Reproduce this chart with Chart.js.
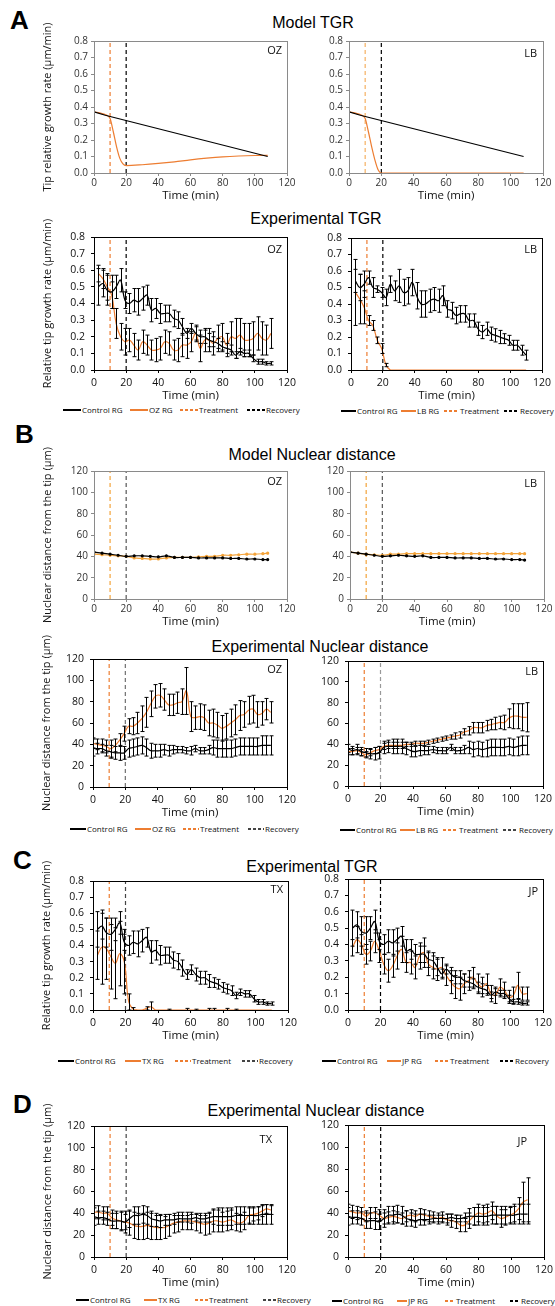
<!DOCTYPE html>
<html>
<head>
<meta charset="utf-8">
<script src="https://cdn.jsdelivr.net/npm/chart.js@4/dist/chart.umd.min.js"></script>
<style>
body { margin: 0; background: #fff; width: 555px; height: 1306px; position: relative; overflow: hidden; font-family: "Liberation Sans", Arial, sans-serif; }
.abs { position: absolute; }
.letter { font-weight: bold; font-size: 26px; line-height: 26px; color: #000; }
.title { font-size: 16px; line-height: 16px; color: #000; white-space: nowrap; transform: translateX(-50%); }
.legend { font-family: "Open Sans", sans-serif; font-size: 8px; line-height: 10px; color: #111; white-space: nowrap; display: flex; align-items: center; }
.legend .ln { display: inline-block; height: 1.5px; }
.legend .ln.dash { height: 1.2px; }
.legend .tx { display: inline-block; padding-left: 1px; }
</style>
</head>
<body>
<div class="abs letter" style="left:10px;top:7px">A</div>
<div class="abs letter" style="left:15px;top:421px">B</div>
<div class="abs letter" style="left:13px;top:847px">C</div>
<div class="abs letter" style="left:13px;top:1091px">D</div>

<div class="abs title" style="left:313px;top:15px">Model TGR</div>
<div class="abs title" style="left:316px;top:211px">Experimental TGR</div>
<div class="abs title" style="left:312px;top:447px">Model Nuclear distance</div>
<div class="abs title" style="left:320px;top:639px">Experimental Nuclear distance</div>
<div class="abs title" style="left:312px;top:859px">Experimental TGR</div>
<div class="abs title" style="left:316px;top:1103px">Experimental Nuclear distance</div>

<script>
const orange = '#ED7D31';
const modelOrange = '#F3A33A';
const treatAt = 10;
const recoverAt = 20;

// model curves (A and B, top rows)
const modelCtrlTgrTime = [0, 7, 108];
const modelCtrlTgr = [0.37, 0.35, 0.10];
const modelTgrTime = [0, 5, 8, 10, 12, 14, 16, 18, 20, 30, 40, 50, 60, 70, 80, 90, 100, 108];
const modelOzTgr = [0.37, 0.36, 0.35, 0.33, 0.25, 0.16, 0.09, 0.055, 0.045, 0.05, 0.058, 0.068, 0.08, 0.09, 0.098, 0.103, 0.106, 0.107];
const modelLbTgr = [0.37, 0.36, 0.35, 0.33, 0.25, 0.16, 0.08, 0.02, 0, 0, 0, 0, 0, 0, 0, 0, 0, 0];

const modelNucTime = [0, 5, 10, 15, 20, 25, 30, 35, 40, 45, 50, 55, 60, 65, 70, 75, 80, 85, 90, 95, 100, 105, 108];
const modelOzCtrlNuc = [44, 43, 42, 41, 40, 40.5, 40.5, 40, 39.5, 40.5, 39, 39, 39, 38.5, 38.5, 38.5, 38.5, 38, 38, 37.5, 37.5, 37, 37];
const modelOzNuc = [42, 41.5, 41, 40.5, 40, 38.5, 38, 37.5, 37.5, 38.5, 39, 39, 39, 39.5, 40, 40, 41, 41, 41.5, 42, 42, 42.5, 43];
const modelLbCtrlNuc = [44, 43, 42, 41, 40, 40.5, 41, 40.5, 40, 40.5, 39, 39, 39, 38.5, 38.5, 38.5, 38, 38, 37.5, 37.5, 37, 37, 36.5];
const modelLbNuc = [44, 43, 42, 41.5, 41, 42, 42, 42.5, 42.5, 42.5, 42.5, 42.5, 42.5, 42.5, 42.5, 42.5, 42.5, 42.5, 42.5, 42.5, 42.5, 42.5, 42.5];

// experimental sampling times
const tgrTime = [2.75, 5.5, 8.25, 11, 13.75, 16.5, 19.25, 22, 24.75, 27.5,
  30.25, 33, 35.75, 38.5, 41.25, 44, 46.75, 49.5, 52.25, 55,
  57.75, 60.5, 63.25, 66, 68.75, 71.5, 74.25, 77, 79.75, 82.5,
  85.25, 88, 90.75, 93.5, 96.25, 99, 101.75, 104.5, 107.25, 110];
const nucTime = [0, 2.75, 5.5, 8.25, 11, 13.75, 16.5, 19.25, 22, 24.75,
  27.5, 30.25, 33, 35.75, 38.5, 41.25, 44, 46.75, 49.5, 52.25,
  55, 57.75, 60.5, 63.25, 66, 68.75, 71.5, 74.25, 77, 79.75,
  82.5, 85.25, 88, 90.75, 93.5, 96.25, 99, 101.75, 104.5, 107.25, 110];

// experimental TGR
const ctrlTgr = [0.50, 0.52, 0.48, 0.47, 0.50, 0.54, 0.42, 0.40, 0.42, 0.41,
  0.43, 0.45, 0.36, 0.37, 0.34, 0.34, 0.34, 0.31, 0.30, 0.26,
  0.22, 0.25, 0.22, 0.20, 0.20, 0.18, 0.17, 0.16, 0.14, 0.13,
  0.12, 0.09, 0.11, 0.10, 0.10, 0.07, 0.05, 0.05, 0.04, 0.04];
const ctrlTgrErr = [0.11, 0.08, 0.09, 0.10, 0.07, 0.07, 0.05, 0.06, 0.07, 0.08,
  0.07, 0.06, 0.07, 0.06, 0.06, 0.05, 0.05, 0.05, 0.05, 0.05,
  0.03, 0.03, 0.04, 0.04, 0.04, 0.04, 0.03, 0.03, 0.03, 0.03,
  0.03, 0.02, 0.02, 0.02, 0.02, 0.02, 0.015, 0.015, 0.01, 0.01];
const ozTgr = [0.58, 0.55, 0.50, 0.45, 0.28, 0.20, 0.17, 0.18, 0.15, 0.12,
  0.17, 0.15, 0.12, 0.12, 0.13, 0.17, 0.16, 0.12, 0.12, 0.15,
  0.15, 0.17, 0.22, 0.13, 0.18, 0.18, 0.16, 0.19, 0.20, 0.15,
  0.20, 0.19, 0.21, 0.18, 0.18, 0.19, 0.22, 0.19, 0.18, 0.22];
const ozTgrErr = [0.05, 0.06, 0.08, 0.08, 0.09, 0.08, 0.08, 0.07, 0.07, 0.06,
  0.07, 0.06, 0.06, 0.07, 0.07, 0.07, 0.07, 0.06, 0.07, 0.07,
  0.08, 0.06, 0.05, 0.08, 0.07, 0.07, 0.07, 0.08, 0.08, 0.07,
  0.09, 0.12, 0.10, 0.10, 0.10, 0.10, 0.10, 0.10, 0.09, 0.09];
const lbCtrlTgr = [0.54, 0.50, 0.52, 0.56, 0.50, 0.49, 0.47, 0.44, 0.52, 0.48,
  0.51, 0.47, 0.48, 0.53, 0.45, 0.40, 0.40, 0.42, 0.43, 0.42,
  0.45, 0.37, 0.36, 0.33, 0.34, 0.34, 0.30, 0.30, 0.25, 0.23,
  0.25, 0.22, 0.21, 0.20, 0.19, 0.18, 0.15, 0.15, 0.12, 0.09];
const lbCtrlTgrErr = [0.07, 0.08, 0.08, 0.04, 0.06, 0.02, 0.03, 0.05, 0.05, 0.06,
  0.10, 0.08, 0.08, 0.08, 0.08, 0.08, 0.08, 0.07, 0.07, 0.07,
  0.06, 0.05, 0.05, 0.05, 0.05, 0.05, 0.04, 0.04, 0.04, 0.04,
  0.04, 0.04, 0.04, 0.04, 0.03, 0.03, 0.03, 0.03, 0.03, 0.03];
const lbTgr = [0.47, 0.43, 0.38, 0.30, 0.27, 0.18, 0.13, 0.03, 0, 0,
  0, 0, 0, 0, 0, 0, 0, 0, 0, 0,
  0, 0, 0, 0, 0, 0, 0, 0, 0, 0,
  0, 0, 0, 0, 0, 0, 0, 0, 0, 0];
const lbTgrErr = [0.20, 0.15, 0.10, 0.03, 0.03, 0.02, 0.03, 0.01, 0, 0,
  0, 0, 0, 0, 0, 0, 0, 0, 0, 0,
  0, 0, 0, 0, 0, 0, 0, 0, 0, 0,
  0, 0, 0, 0, 0, 0, 0, 0, 0, 0];
const txTgr = [0.34, 0.39, 0.38, 0.33, 0.29, 0.35, 0.30, 0.05, 0.005, 0,
  0, 0.01, 0.02, 0, 0, 0, 0, 0, 0, 0,
  0, 0, 0, 0, 0, 0, 0, 0, 0, 0,
  0, 0, 0, 0, 0, 0, 0, 0, 0, 0];
const txTgrErr = [0.15, 0.23, 0.19, 0.20, 0.22, 0.20, 0.20, 0.05, 0.01, 0,
  0, 0.01, 0.03, 0, 0, 0, 0.005, 0, 0, 0,
  0.01, 0, 0.005, 0, 0, 0.01, 0.01, 0, 0, 0.01,
  0, 0.005, 0, 0, 0, 0, 0, 0, 0, 0];
const jpTgr = [0.38, 0.43, 0.40, 0.34, 0.36, 0.42, 0.36, 0.28, 0.24, 0.27,
  0.33, 0.37, 0.29, 0.29, 0.26, 0.33, 0.35, 0.28, 0.26, 0.25,
  0.26, 0.21, 0.17, 0.14, 0.13, 0.16, 0.18, 0.20, 0.16, 0.14,
  0.16, 0.10, 0.09, 0.14, 0.12, 0.08, 0.09, 0.15, 0.10, 0.10];
const jpTgrErr = [0.05, 0.08, 0.06, 0.06, 0.06, 0.07, 0.07, 0.06, 0.07, 0.07,
  0.08, 0.08, 0.06, 0.07, 0.07, 0.08, 0.09, 0.07, 0.07, 0.07,
  0.06, 0.06, 0.07, 0.07, 0.07, 0.06, 0.06, 0.06, 0.06, 0.06,
  0.06, 0.05, 0.05, 0.05, 0.05, 0.04, 0.05, 0.08, 0.04, 0.04];

// experimental nuclear distance
const ozCtrlNuc = [37, 36, 36, 34, 33, 32, 32, 32, 36, 37,
  38, 39, 37, 34, 34, 34, 35, 34, 35, 35,
  35, 34, 34, 36, 34, 34, 35, 37, 36, 36,
  36, 36, 37, 38, 38, 38, 38, 38, 39, 39, 39];
const ozCtrlNucErr = [8, 5, 4, 5, 6, 6, 7, 6, 8, 8,
  8, 8, 8, 7, 6, 6, 5, 5, 4, 3,
  3, 3, 4, 3, 3, 3, 4, 7, 8, 8,
  8, 8, 8, 8, 8, 8, 8, 8, 9, 9, 9];
const ozNuc = [41, 40, 39, 38, 36, 39, 44, 50, 57, 57,
  60, 64, 70, 78, 85, 86, 82, 77, 77, 79,
  80, 90, 66, 65, 66, 65, 60, 60, 58, 55,
  57, 60, 63, 67, 68, 72, 73, 68, 69, 73, 70];
const ozNucErr = [5, 5, 6, 6, 8, 6, 6, 7, 7, 8,
  10, 12, 14, 12, 11, 11, 10, 10, 10, 10,
  12, 22, 14, 11, 12, 12, 12, 13, 12, 12,
  12, 13, 14, 14, 12, 13, 13, 12, 11, 10, 10];
const lbCtrlNuc = [36, 34, 35, 33, 32, 31, 31, 32, 37, 38,
  38, 38, 38, 36, 34, 33, 34, 34, 34, 35,
  34, 34, 34, 37, 34, 34, 35, 37, 35, 36,
  35, 36, 37, 37, 37, 37, 38, 37, 38, 39, 39];
const lbCtrlNucErr = [4, 4, 5, 4, 4, 5, 6, 6, 6, 6,
  7, 7, 7, 6, 6, 5, 5, 4, 4, 3,
  3, 3, 3, 3, 3, 3, 4, 6, 7, 7,
  7, 8, 8, 8, 8, 8, 8, 8, 9, 9, 9];
const lbNuc = [33, 33, 34, 32, 30, 32, 34, 35, 38, 39,
  39, 39, 39, 40, 40, 41, 41, 41, 42, 43,
  44, 45, 46, 47, 48, 49, 52, 53, 56, 56,
  56, 58, 59, 60, 61, 61, 65, 67, 67, 66, 66];
const lbNucErr = [3, 3, 3, 3, 3, 3, 3, 3, 3, 3,
  3, 3, 3, 2, 2, 2, 2, 2, 2, 2,
  2, 2, 2, 2, 3, 3, 3, 4, 5, 5,
  5, 5, 5, 6, 6, 7, 9, 12, 12, 13, 14];
const dCtrlNuc = [37, 36, 36, 35, 33, 33, 33, 32, 35, 38,
  38, 39, 38, 35, 34, 33, 34, 34, 34, 35,
  35, 35, 35, 36, 35, 35, 36, 37, 37, 37,
  37, 37, 38, 38, 38, 38, 38, 38, 39, 39, 39];
const dCtrlNucErr = [8, 6, 6, 6, 7, 7, 8, 7, 8, 8,
  8, 8, 8, 7, 6, 6, 5, 5, 4, 3,
  3, 3, 4, 3, 3, 3, 4, 7, 8, 8,
  8, 8, 8, 8, 8, 8, 8, 8, 9, 9, 9];
const txNuc = [41, 41, 40, 40, 36, 34, 33, 32, 31, 29,
  28, 28, 29, 28, 27, 27, 27, 29, 31, 32,
  33, 33, 33, 32, 31, 30, 31, 33, 33, 32,
  33, 34, 32, 31, 33, 38, 39, 40, 42, 44, 43];
const txNucErr = [6, 6, 6, 6, 7, 8, 9, 10, 11, 12,
  12, 12, 12, 12, 11, 11, 10, 10, 9, 9,
  8, 8, 8, 8, 9, 10, 10, 10, 10, 9,
  9, 9, 8, 8, 8, 7, 6, 6, 5, 4, 4];
const jpNuc = [42, 41, 40, 40, 37, 40, 40, 38, 35, 36,
  37, 36, 35, 37, 38, 37, 39, 38, 37, 36,
  35, 36, 34, 33, 32, 29, 29, 33, 37, 40,
  39, 40, 42, 38, 35, 36, 38, 40, 44, 50, 52];
const jpNucErr = [6, 6, 6, 5, 5, 5, 5, 5, 5, 5,
  5, 5, 5, 5, 5, 5, 5, 5, 5, 5,
  5, 5, 5, 6, 6, 6, 6, 7, 8, 8,
  8, 8, 8, 8, 8, 7, 7, 8, 10, 18, 20];

const pts = (xs, ys) => xs.map((x, i) => ({ x, y: ys[i] }));

const errorBars = {
  id: 'errorBars',
  afterDatasetsDraw(chart) {
    const { ctx, chartArea, scales: { x, y } } = chart;
    ctx.save();
    ctx.beginPath();
    ctx.rect(chartArea.left, chartArea.top - 1, chartArea.right - chartArea.left, chartArea.bottom - chartArea.top + 2);
    ctx.clip();
    ctx.strokeStyle = '#000';
    ctx.lineWidth = 1;
    chart.data.datasets.forEach(ds => {
      if (!ds.errors) return;
      ds.data.forEach((p, j) => {
        const e = ds.errors[j];
        if (!e) return;
        const px = Math.round(x.getPixelForValue(p.x)) + 0.5;
        const top = y.getPixelForValue(p.y + e);
        const bot = y.getPixelForValue(p.y - e);
        ctx.beginPath();
        ctx.moveTo(px, top); ctx.lineTo(px, bot);
        ctx.moveTo(px - 2, top); ctx.lineTo(px + 2, top);
        ctx.moveTo(px - 2, bot); ctx.lineTo(px + 2, bot);
        ctx.stroke();
      });
    });
    ctx.restore();
  }
};

const frame = {
  id: 'frame',
  afterDraw(chart, args, opts) {
    const { ctx, chartArea: a } = chart;
    ctx.save();
    ctx.strokeStyle = opts.color;
    ctx.lineWidth = 1;
    ctx.strokeRect(a.left + 0.5, a.top + 0.5, a.right - a.left, a.bottom - a.top);
    if (opts.tag) {
      ctx.fillStyle = '#111';
      ctx.font = '11px "Open Sans"';
      ctx.textAlign = 'right';
      ctx.textBaseline = 'alphabetic';
      ctx.fillText(opts.tag, a.right - opts.tagDx, a.top + opts.tagDy);
    }
    ctx.restore();
  }
};

function vline(xv, yMax, color) {
  return {
    data: [{ x: xv, y: 0 }, { x: xv, y: yMax }],
    borderColor: color, borderWidth: 1.2, borderDash: [4, 3],
    pointRadius: 0, tension: 0
  };
}

function series(xs, ys, color, extra) {
  return Object.assign({
    data: pts(xs, ys), borderColor: color, backgroundColor: color,
    borderWidth: 1.2, pointRadius: 0, tension: 0.4
  }, extra || {});
}

function makePanel(p) {
  const [L, T, R, B] = p.box;
  const model = p.kind === 'model';
  const padL = p.yTitle ? 53 : 40, padT = 24, padR = 14, padB = model ? 30 : 33;
  const left = L - padL, top = T - padT;
  const w = R + padR - left, h = B + padB - top;
  const holder = document.createElement('div');
  holder.className = 'abs';
  holder.style.cssText = `left:${left}px;top:${top}px;width:${w}px;height:${h}px`;
  const cv = document.createElement('canvas');
  cv.width = w; cv.height = h;
  cv.style.width = w + 'px'; cv.style.height = h + 'px';
  holder.appendChild(cv);
  document.body.appendChild(holder);

  const axisColor = model ? '#8a8a8a' : '#000';
  const tickColor = model ? '#333' : '#111';
  const tickFont = { family: 'Open Sans', size: model ? 10 : 10.5 };
  const datasets = p.series.concat([vline(treatAt, p.yMax, p.treat), vline(recoverAt, p.yMax, p.recov)]);

  new Chart(cv, {
    type: 'line',
    data: { datasets },
    plugins: [errorBars, frame],
    options: {
      responsive: false,
      animation: false,
      devicePixelRatio: 1,
      layout: { padding: { top: padT, right: padR, left: 0, bottom: 0 } },
      plugins: {
        legend: { display: false },
        tooltip: { enabled: false },
        frame: { color: axisColor, tag: p.tag, tagDx: p.tagDx, tagDy: p.tagDy }
      },
      scales: {
        x: {
          type: 'linear', min: 0, max: 120,
          ticks: { stepSize: 20, color: tickColor, font: tickFont, padding: model ? 1 : 4, maxRotation: 0 },
          grid: { drawOnChartArea: false, drawTicks: true, tickLength: 3, color: axisColor },
          border: { color: axisColor },
          title: { display: true, text: 'Time (min)', color: '#111', font: { family: 'Open Sans', size: 11.5 }, padding: 0 },
          afterFit(s) { s.height = padB; }
        },
        y: {
          min: 0, max: p.yMax,
          ticks: {
            stepSize: p.yStep, color: tickColor, font: tickFont, padding: model ? 3 : 6,
            callback: v => v.toFixed(p.dec)
          },
          grid: { drawOnChartArea: false, drawTicks: true, tickLength: 3, color: axisColor },
          border: { color: axisColor },
          title: { display: !!p.yTitle, text: p.yTitle || '', color: '#111', font: { family: 'Open Sans', size: 11 }, padding: 0 },
          afterFit(s) { s.width = padL; }
        }
      }
    }
  });
}

const legendTextW = [42, 25, 42, 36];

function makeLegend(x, y, items, lineW, gap) {
  const d = document.createElement('div');
  d.className = 'abs legend';
  d.style.left = x + 'px';
  d.style.top = (y - 5) + 'px';
  d.innerHTML = items.map((it, i) => {
    const bg = it.dash
      ? `repeating-linear-gradient(90deg, ${it.color} 0 3px, transparent 3px 5px)`
      : it.color;
    return `<span class="ln${it.dash ? ' dash' : ''}" style="width:${lineW}px;background:${bg}"></span>` +
      `<span class="tx" style="width:${legendTextW[i]}px;margin-right:${gap}px">${it.label}</span>`;
  }).join('');
  document.body.appendChild(d);
}

const tgrTitleModel = 'Tip relative growth rate (µm/min)';
const tgrTitle = 'Relative tip growth rate (µm/min)';
const nucTitle = 'Nuclear distance from the tip (µm)';
const grey = '#6f6f6f';

const panels = [
  { box: [94, 41, 287, 173], kind: 'model', yMax: 0.8, yStep: 0.1, dec: 1, yTitle: tgrTitleModel, tag: 'OZ', tagDx: 5, tagDy: 13,
    treat: orange, recov: '#000',
    series: [series(modelCtrlTgrTime, modelCtrlTgr, '#000', { tension: 0 }),
             series(modelTgrTime, modelOzTgr, orange, { cubicInterpolationMode: 'monotone' })] },
  { box: [349, 41, 543, 173], kind: 'model', yMax: 0.8, yStep: 0.1, dec: 1, tag: 'LB', tagDx: 6, tagDy: 16,
    treat: '#F5B062', recov: '#000',
    series: [series(modelCtrlTgrTime, modelCtrlTgr, '#000', { tension: 0 }),
             series(modelTgrTime, modelLbTgr, orange, { cubicInterpolationMode: 'monotone' })] },
  { box: [94, 237, 287, 370], kind: 'exp', yMax: 0.8, yStep: 0.1, dec: 1, yTitle: tgrTitle, tag: 'OZ', tagDx: 5, tagDy: 16,
    treat: orange, recov: '#000',
    series: [series(tgrTime, ctrlTgr, '#000', { errors: ctrlTgrErr }),
             series(tgrTime, ozTgr, orange, { errors: ozTgrErr })] },
  { box: [351, 238, 542, 370], kind: 'exp', yMax: 0.8, yStep: 0.1, dec: 1, tag: 'LB', tagDx: 5, tagDy: 15,
    treat: orange, recov: '#000',
    series: [series(tgrTime, lbCtrlTgr, '#000', { errors: lbCtrlTgrErr }),
             series(tgrTime, lbTgr, orange, { errors: lbTgrErr })] },
  { box: [94, 471, 287, 599], kind: 'model', yMax: 120, yStep: 20, dec: 0, yTitle: nucTitle, tag: 'OZ', tagDx: 5, tagDy: 14,
    treat: modelOrange, recov: '#555',
    series: [series(modelNucTime, modelOzCtrlNuc, '#000', { pointRadius: 1 }),
             series(modelNucTime, modelOzNuc, modelOrange, { pointRadius: 1 })] },
  { box: [350, 471, 544, 599], kind: 'model', yMax: 120, yStep: 20, dec: 0, tag: 'LB', tagDx: 7, tagDy: 16,
    treat: modelOrange, recov: '#555',
    series: [series(modelNucTime, modelLbCtrlNuc, '#000', { pointRadius: 1 }),
             series(modelNucTime, modelLbNuc, modelOrange, { pointRadius: 1 })] },
  { box: [93, 659, 287, 787], kind: 'exp', yMax: 120, yStep: 20, dec: 0, yTitle: nucTitle, tag: 'OZ', tagDx: 5, tagDy: 14,
    treat: orange, recov: grey,
    series: [series(nucTime, ozCtrlNuc, '#000', { errors: ozCtrlNucErr }),
             series(nucTime, ozNuc, orange, { errors: ozNucErr })] },
  { box: [348, 661, 543, 786], kind: 'exp', yMax: 120, yStep: 20, dec: 0, tag: 'LB', tagDx: 5, tagDy: 14,
    treat: orange, recov: '#999',
    series: [series(nucTime, lbCtrlNuc, '#000', { errors: lbCtrlNucErr }),
             series(nucTime, lbNuc, orange, { errors: lbNucErr })] },
  { box: [93, 881, 288, 1010], kind: 'exp', yMax: 0.8, yStep: 0.1, dec: 1, yTitle: tgrTitle, tag: 'TX', tagDx: 5, tagDy: 12,
    treat: orange, recov: '#444',
    series: [series(tgrTime, ctrlTgr, '#000', { errors: ctrlTgrErr }),
             series(tgrTime, txTgr, orange, { errors: txTgrErr })] },
  { box: [348, 879, 543, 1010], kind: 'exp', yMax: 0.8, yStep: 0.1, dec: 1, tag: 'JP', tagDx: 5, tagDy: 16,
    treat: orange, recov: '#000',
    series: [series(tgrTime, ctrlTgr, '#000', { errors: ctrlTgrErr }),
             series(tgrTime, jpTgr, orange, { errors: jpTgrErr })] },
  { box: [94, 1126, 287, 1257], kind: 'exp', yMax: 120, yStep: 20, dec: 0, yTitle: nucTitle, tag: 'TX', tagDx: 15, tagDy: 17,
    treat: orange, recov: '#444',
    series: [series(nucTime, dCtrlNuc, '#000', { errors: dCtrlNucErr }),
             series(nucTime, txNuc, orange, { errors: txNucErr })] },
  { box: [348, 1125, 544, 1257], kind: 'exp', yMax: 120, yStep: 20, dec: 0, tag: 'JP', tagDx: 17, tagDy: 20,
    treat: orange, recov: '#000',
    series: [series(nucTime, dCtrlNuc, '#000', { errors: dCtrlNucErr }),
             series(nucTime, jpNuc, orange, { errors: jpNucErr })] }
];

panels.forEach(makePanel);

const legendItems = (name, recovColor) => [
  { label: 'Control RG', color: '#000' },
  { label: name + ' RG', color: orange },
  { label: 'Treatment', color: orange, dash: true },
  { label: 'Recovery', color: recovColor, dash: true }
];
makeLegend(63, 410, legendItems('OZ', '#000'), 18, 6);
makeLegend(341, 411, legendItems('LB', '#000'), 15, 2);
makeLegend(70, 829, legendItems('OZ', '#444'), 16, 6);
makeLegend(340, 830, legendItems('LB', '#444'), 15, 2);
makeLegend(58, 1061, legendItems('TX', '#444'), 16, 8);
makeLegend(322, 1061, legendItems('JP', '#000'), 14, 8);
makeLegend(76, 1300, legendItems('TX', '#444'), 13, 12);
makeLegend(332, 1301, legendItems('JP', '#000'), 10, 12);
</script>
</body>
</html>
